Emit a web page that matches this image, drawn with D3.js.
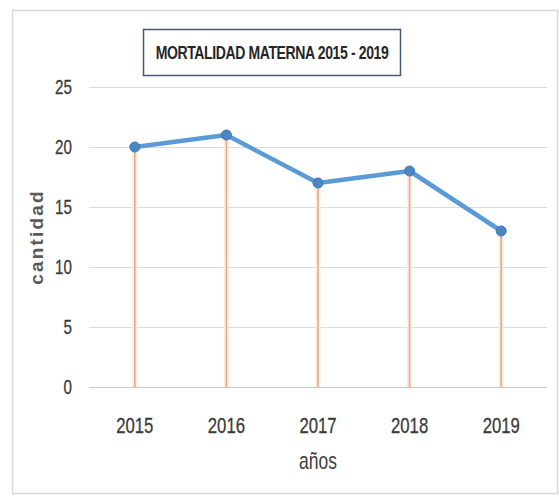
<!DOCTYPE html>
<html>
<head>
<meta charset="utf-8">
<script src="https://cdn.jsdelivr.net/npm/d3@7"></script>
<style>
  body { margin: 0; background: #fff; }
  text { font-family: "Liberation Sans", Arial, sans-serif; }
</style>
</head>
<body>
<div id="chart"></div>
<script>
var years = ["2015", "2016", "2017", "2018", "2019"];
var deaths = [20, 21, 17, 18, 13];
var yTicks = [0, 5, 10, 15, 20, 25];
var titleText = "MORTALIDAD MATERNA 2015 - 2019";
var xTitle = "años";
var yTitle = "cantidad";

var w = 559, h = 496
  , marginLeft = 89, marginRight = 12, marginTop = 87, marginBottom = 109;
var contentsWidth = w - marginLeft - marginRight, contentsHeight = h - marginTop - marginBottom;
var squeeze = 0.76;  // the original font is a condensed one

var svg = d3.select("#chart").append("svg")
  .attr("width", w)
  .attr("height", h);

// outer frame
svg.append("rect")
  .attr("x", 12.5).attr("y", 10.5)
  .attr("width", 545).attr("height", 483)
  .attr("fill", "#fff")
  .attr("stroke", "#d9d9d9")
  .attr("stroke-width", 1.5);

var g = svg.append("g")
  .attr("transform", "translate(" + marginLeft + "," + marginTop + ")");

var xScale = d3.scaleBand().domain(years).range([0, contentsWidth]);
var yScale = d3.scaleLinear().domain([0, 25]).range([contentsHeight, 0]);

// gridlines
g.append("g")
  .selectAll("line")
  .data(yTicks)
  .enter()
  .append("line")
  .attr("x1", 0)
  .attr("x2", contentsWidth)
  .attr("y1", function(d) { return yScale(d) + 0.5; })
  .attr("y2", function(d) { return yScale(d) + 0.5; })
  .attr("stroke", function(d) { return d === 0 ? "#c8c8c8" : "#dcdcdc"; })
  .attr("stroke-width", 1.2);

// y axis labels
g.append("g")
  .selectAll("text")
  .data(yTicks)
  .enter()
  .append("text")
  .attr("transform", function(d) { return "translate(-17," + (yScale(d) + 7) + ") scale(" + squeeze + ",1)"; })
  .attr("text-anchor", "end")
  .attr("font-size", 20)
  .attr("fill", "#3a3a3a")
  .attr("stroke", "#3a3a3a")
  .attr("stroke-width", 0.3)
  .text(function(d) { return d; });

// x axis labels
g.append("g")
  .selectAll("text")
  .data(years)
  .enter()
  .append("text")
  .attr("transform", function(d) { return "translate(" + (xScale(d) + xScale.bandwidth() / 2) + "," + (contentsHeight + 46) + ") scale(" + squeeze + ",1)"; })
  .attr("text-anchor", "middle")
  .attr("font-size", 22)
  .attr("fill", "#3a3a3a")
  .attr("stroke", "#3a3a3a")
  .attr("stroke-width", 0.3)
  .text(function(d) { return d; });

var cx = function(i) { return xScale(years[i]) + xScale.bandwidth() / 2; };

// drop lines
var drops = g.append("g");
drops.selectAll("line.glow")
  .data(deaths)
  .enter()
  .append("line")
  .attr("class", "glow")
  .attr("x1", function(d, i) { return cx(i); })
  .attr("x2", function(d, i) { return cx(i); })
  .attr("y1", function(d) { return yScale(d); })
  .attr("y2", contentsHeight)
  .attr("stroke", "#fdebdc")
  .attr("stroke-width", 5);
drops.selectAll("line.core")
  .data(deaths)
  .enter()
  .append("line")
  .attr("class", "core")
  .attr("x1", function(d, i) { return cx(i); })
  .attr("x2", function(d, i) { return cx(i); })
  .attr("y1", function(d) { return yScale(d); })
  .attr("y2", contentsHeight)
  .attr("stroke", "#dcb090")
  .attr("stroke-width", 1.6);

// series line
var line = d3.line()
  .x(function(d, i) { return cx(i); })
  .y(function(d) { return yScale(d); });
g.append("path")
  .datum(deaths)
  .attr("d", line)
  .attr("fill", "none")
  .attr("stroke", "#5b9bd5")
  .attr("stroke-width", 4.5)
  .attr("stroke-linejoin", "round");

g.append("g")
  .selectAll("circle")
  .data(deaths)
  .enter()
  .append("circle")
  .attr("cx", function(d, i) { return cx(i); })
  .attr("cy", function(d) { return yScale(d); })
  .attr("r", 5)
  .attr("fill", "#4a86c5")
  .attr("stroke", "#3f78b8")
  .attr("stroke-width", 1);

// axis titles
svg.append("text")
  .attr("transform", "translate(" + (marginLeft + contentsWidth / 2) + ",469) scale(" + squeeze + ",1)")
  .attr("text-anchor", "middle")
  .attr("font-size", 23)
  .attr("fill", "#404040")
  .text(xTitle);

svg.append("text")
  .attr("transform", "translate(43,237) rotate(-90)")
  .attr("text-anchor", "middle")
  .attr("font-family", "DejaVu Sans, sans-serif")
  .attr("font-size", 19)
  .attr("font-weight", "bold")
  .attr("letter-spacing", 2.2)
  .attr("fill", "#595959")
  .text(yTitle);

// title box
svg.append("rect")
  .attr("x", 143.5).attr("y", 29.5)
  .attr("width", 257).attr("height", 46)
  .attr("fill", "#fff")
  .attr("stroke", "#46597a")
  .attr("stroke-width", 1.5);
svg.append("text")
  .attr("transform", "translate(272,59) scale(0.78,1)")
  .attr("text-anchor", "middle")
  .attr("font-size", 18)
  .attr("font-weight", "bold")
  .attr("letter-spacing", -0.5)
  .attr("fill", "#262626")
  .text(titleText);
</script>
</body>
</html>
